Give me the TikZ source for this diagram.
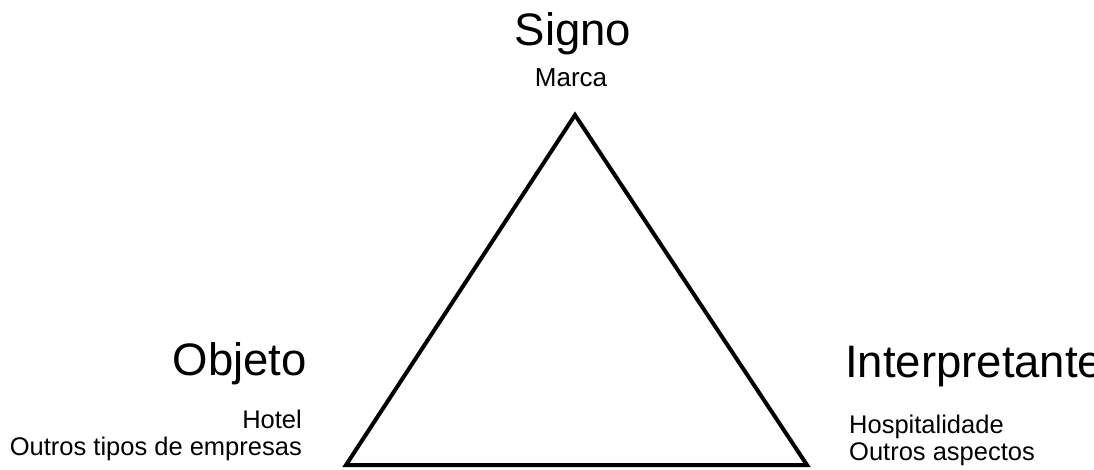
\documentclass[tikz,border=0pt]{standalone}
\usepackage{fontspec}
\setmainfont{Liberation Sans}
\usetikzlibrary{positioning}

\begin{document}
\begin{tikzpicture}[
  x=1pt, y=-1pt,
  inner sep=0pt,
  title/.style={font=\fontsize{45.5}{50}\selectfont},
  subtitle/.style={font=\fontsize{26}{28}\selectfont},
  note/.style={font=\fontsize{25.5}{27}\selectfont},
  side/.style={line width=4pt, line join=miter},
]

% --- Page frame ---
\useasboundingbox (0,0) rectangle (1094,469);
\clip (0,0) rectangle (1094,469);

% --- Corners of the triangle ---
\coordinate (top) at (575,115);
\coordinate (left) at (346,465);
\coordinate (right) at (807,465);

% --- Labels ---
\node[title, anchor=base] (signo) at (573,45) {Signo};
\node[subtitle, anchor=base] (marca) at (571,86) {Marca};

\node[title, anchor=base east] (objeto) at (307,375) {Objeto};
\node[note, anchor=base east, align=right] (objlist) at (302,455) {Hotel\\Outros tipos de empresas};

\node[title, anchor=base west] (interp) at (845,377) {Interpretante};
\node[note, anchor=base west, align=left] (interplist) at (849,460) {Hospitalidade\\Outros aspectos};

% --- Triangle ---
\draw[side] (top) -- (left) -- (right) -- cycle;

\end{tikzpicture}
\end{document}
